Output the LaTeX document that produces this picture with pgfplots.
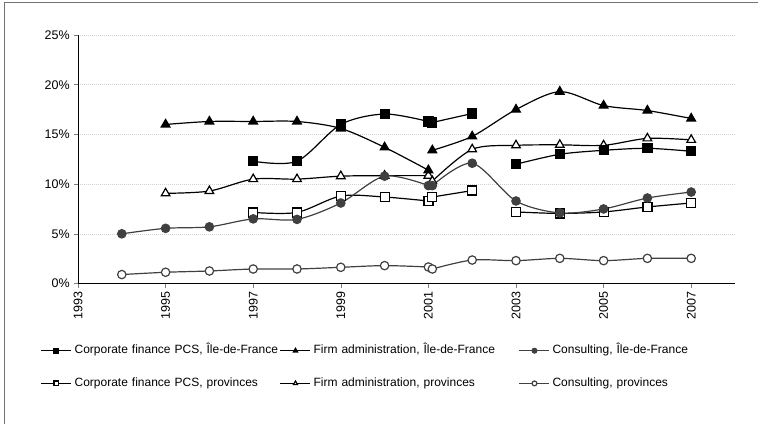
\documentclass[border=0pt]{standalone}
\usepackage{pgfplots}
\pgfplotsset{compat=1.18}
\usepackage{fontspec}
\setmainfont{Liberation Sans}
\definecolor{consgray}{HTML}{404040}
\begin{document}
\fontsize{12.5}{15}\selectfont
\begin{tikzpicture}
\useasboundingbox (0,0) rectangle (758pt,424pt);
\draw[black!55, line width=0.8pt] (4pt,0pt) -- (4pt,422pt) -- (758pt,422pt);
\begin{axis}[
  at={(78pt,140.5pt)}, anchor=south west,
  scale only axis, width=657pt, height=248.5pt,
  xmin=1993, xmax=2008, ymin=0, ymax=25,
  axis x line*=bottom, axis y line*=left,
  axis line style={-, line width=0.9pt, black},
  xtick={1993,1995,...,2007}, ytick={0,5,...,25},
  minor tick num=0,
  tick align=outside, major tick length=4pt,
  tick style={black!50, line width=0.6pt},
  ymajorgrids, grid style={black!18, dash pattern=on 1pt off 1pt, line width=0.6pt},
  /pgf/number format/assume math mode=true,
  /pgf/number format/1000 sep={},
  tick label style={font=\fontsize{12.5}{15}\selectfont},
  xticklabel style={rotate=90, anchor=east},
  yticklabel={\pgfmathprintnumber{\tick}\%},
  every axis plot/.append style={line width=1.2pt, smooth, tension=0.5},
  legend image code/.code={\draw[mark repeat=2,mark phase=2,#1,line width=1.2pt,mark size=2.4pt] plot[sharp plot] coordinates {(0pt,0pt) (15pt,0pt) (30pt,0pt)};},
  legend columns=3,
  legend style={at={(-0.0568,-0.2455)}, anchor=north west, draw=none, fill=none,
    inner sep=0pt, font=\fontsize{12}{14.4}\selectfont,
    nodes={inner sep=0pt, text width=204pt, text height=9pt, text depth=3pt, align=left},
    /tikz/row sep=20.7pt,
    /tikz/every odd column/.append style={column sep=2.5pt},
    /tikz/every even column/.append style={column sep=1.3pt}},
  legend cell align=left,
]
% legend images
\addlegendimage{black, mark=square*, mark options={fill=black, solid}}
\addlegendimage{black, mark=triangle*, mark options={fill=black, solid}}
\addlegendimage{consgray, mark=*, mark options={fill=consgray, draw=consgray, solid}}
\addlegendimage{black, mark=square*, mark options={fill=white, solid}}
\addlegendimage{black, mark=triangle*, mark options={fill=white, solid}}
\addlegendimage{consgray, mark=*, mark options={fill=white, draw=consgray, solid}}
\legend{{Corporate finance PCS, Île-de-France}, {Firm administration, Île-de-France}, {Consulting, Île-de-France}, {Corporate finance PCS, provinces}, {Firm administration, provinces}, {Consulting, provinces}}

% Consulting, provinces
\addplot[forget plot, consgray, mark=*, mark size=4.2pt, mark options={fill=white, draw=consgray}] coordinates {
(1994,0.9) (1995,1.13) (1996,1.26) (1997,1.46) (1998,1.46) (1999,1.63) (2000,1.8) (2001,1.66)};
\addplot[forget plot, consgray, mark=*, mark size=4.2pt, mark options={fill=white, draw=consgray}] coordinates {
(2001.09,1.46) (2002,2.36) (2003,2.3) (2004,2.53) (2005,2.3) (2006,2.53) (2007,2.53)};

% Firm administration, provinces
\addplot[forget plot, black, mark=triangle*, mark size=5pt, mark options={fill=white}] coordinates {
(1995,9.07) (1996,9.3) (1997,10.5) (1998,10.5) (1999,10.8) (2000,10.85) (2001,10.85)};
\addplot[forget plot, black, mark=triangle*, mark size=5pt, mark options={fill=white}] coordinates {
(2001.09,10.3) (2002,13.5) (2003,13.9) (2004,13.95) (2005,13.9) (2006,14.6) (2007,14.45)};

% Corporate finance PCS, provinces
\addplot[forget plot, black, mark=square*, mark size=4.5pt, mark options={fill=white}] coordinates {
(1997,7.15) (1998,7.15) (1999,8.8) (2000,8.7) (2001,8.3)};
\addplot[forget plot, black, mark=square*, mark size=4.5pt, mark options={fill=white}] coordinates {
(2001.09,8.7) (2002,9.35)};
\addplot[forget plot, black, mark=square*, mark size=4.5pt, mark options={fill=white}] coordinates {
(2003,7.2) (2004,7.05) (2005,7.2) (2006,7.7) (2007,8.1)};

% Consulting, Ile-de-France
\addplot[forget plot, consgray, mark=*, mark size=4.2pt, mark options={fill=consgray, draw=consgray}] coordinates {
(1994,5.0) (1995,5.55) (1996,5.7) (1997,6.5) (1998,6.45) (1999,8.1) (2000,10.8) (2001,9.85)};
\addplot[forget plot, consgray, mark=*, mark size=4.2pt, mark options={fill=consgray, draw=consgray}] coordinates {
(2001.09,9.85) (2002,12.1) (2003,8.3) (2004,7.1) (2005,7.5) (2006,8.6) (2007,9.2)};

% Firm administration, Ile-de-France
\addplot[forget plot, black, mark=triangle*, mark size=5pt, mark options={fill=black}] coordinates {
(1995,16.0) (1996,16.3) (1997,16.3) (1998,16.3) (1999,15.6) (2000,13.7) (2001,11.4)};
\addplot[forget plot, black, mark=triangle*, mark size=5pt, mark options={fill=black}] coordinates {
(2001.09,13.4) (2002,14.8) (2003,17.5) (2004,19.3) (2005,17.9) (2006,17.4) (2007,16.6)};

% Corporate finance PCS, Ile-de-France
\addplot[forget plot, black, mark=square*, mark size=4.5pt, mark options={fill=black}] coordinates {
(1997,12.3) (1998,12.3) (1999,16.0) (2000,17.05) (2001,16.3)};
\addplot[forget plot, black, mark=square*, mark size=4.5pt, mark options={fill=black}] coordinates {
(2001.09,16.2) (2002,17.1)};
\addplot[forget plot, black, mark=square*, mark size=4.5pt, mark options={fill=black}] coordinates {
(2003,12.0) (2004,13.0) (2005,13.4) (2006,13.6) (2007,13.3)};
\end{axis}
\end{tikzpicture}
\end{document}
